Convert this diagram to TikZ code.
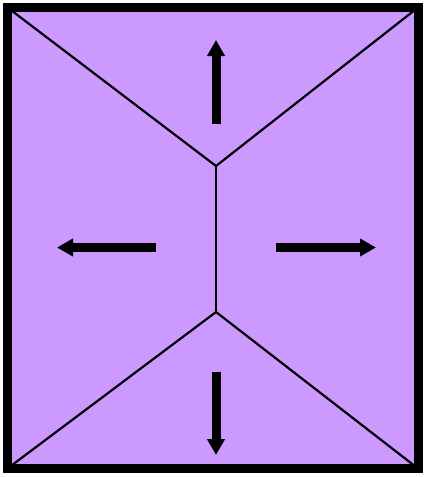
\documentclass[tikz,border=0pt]{standalone}
\usetikzlibrary{arrows.meta}
\definecolor{roofpurple}{RGB}{204,153,255}

\begin{document}
\begin{tikzpicture}[x=1pt,y=-1pt,
  ridge/.style={line width=2.2pt},
  slope/.style={line width=9pt,-{Triangle[length=16pt,width=17pt]}}]
\useasboundingbox (0,0) rectangle (425,477);

\coordinate (C1) at (7.5,7.5);
\coordinate (C2) at (418,7.5);
\coordinate (C3) at (418,468.5);
\coordinate (C4) at (7.5,468.5);

\coordinate (R1) at (216,166);
\coordinate (R2) at (216,312);

\coordinate (N1) at (216,124);
\coordinate (N2) at (216,40);
\coordinate (W1) at (156,247.5);
\coordinate (W2) at (57,247.5);
\coordinate (E1) at (276,247.5);
\coordinate (E2) at (376,247.5);
\coordinate (S1) at (216,372);
\coordinate (S2) at (216,455);

\fill[roofpurple] (C1) rectangle (C3);

\draw[ridge] (C1) -- (R1) -- (C2);
\draw[ridge] (C4) -- (R2) -- (C3);
\draw[ridge] (R1) -- (R2);

\draw[line width=9pt] (C1) rectangle (C3);

\draw[slope] (N1) -- (N2);
\draw[slope] (W1) -- (W2);
\draw[slope] (E1) -- (E2);
\draw[slope] (S1) -- (S2);
\end{tikzpicture}
\end{document}
